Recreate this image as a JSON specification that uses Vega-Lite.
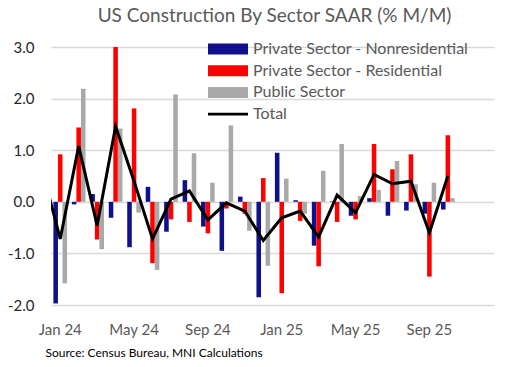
{
  "$schema": "https://vega.github.io/schema/vega-lite/v6.json",
  "autosize": "none",
  "width": 443,
  "height": 258,
  "padding": {"left": 51, "top": 47, "right": 14, "bottom": 62},
  "background": "white",
  "config": {"view": {"stroke": null}, "font": "Lato"},
  "title": {"text": "US Construction By Sector SAAR (% M/M)", "fontSize": 19, "font": "Lato", "fontWeight": "normal", "color": "#595959", "anchor": "middle", "offset": 13, "dx": 2},
  "datasets": {
    "bars": [
      {"month": "Jan 24", "sector": "Private Sector - Nonresidential", "value": -1.97},
      {"month": "Jan 24", "sector": "Private Sector - Residential", "value": 0.92},
      {"month": "Jan 24", "sector": "Public Sector", "value": -1.58},
      {"month": "Feb 24", "sector": "Private Sector - Nonresidential", "value": -0.05},
      {"month": "Feb 24", "sector": "Private Sector - Residential", "value": 1.44},
      {"month": "Feb 24", "sector": "Public Sector", "value": 2.19},
      {"month": "Mar 24", "sector": "Private Sector - Nonresidential", "value": 0.15},
      {"month": "Mar 24", "sector": "Private Sector - Residential", "value": -0.73},
      {"month": "Mar 24", "sector": "Public Sector", "value": -0.92},
      {"month": "Apr 24", "sector": "Private Sector - Nonresidential", "value": -0.31},
      {"month": "Apr 24", "sector": "Private Sector - Residential", "value": 3.0},
      {"month": "Apr 24", "sector": "Public Sector", "value": 1.42},
      {"month": "May 24", "sector": "Private Sector - Nonresidential", "value": -0.88},
      {"month": "May 24", "sector": "Private Sector - Residential", "value": 1.81},
      {"month": "May 24", "sector": "Public Sector", "value": -0.21},
      {"month": "Jun 24", "sector": "Private Sector - Nonresidential", "value": 0.29},
      {"month": "Jun 24", "sector": "Private Sector - Residential", "value": -1.19},
      {"month": "Jun 24", "sector": "Public Sector", "value": -1.32},
      {"month": "Jul 24", "sector": "Private Sector - Nonresidential", "value": -0.58},
      {"month": "Jul 24", "sector": "Private Sector - Residential", "value": -0.34},
      {"month": "Jul 24", "sector": "Public Sector", "value": 2.08},
      {"month": "Aug 24", "sector": "Private Sector - Nonresidential", "value": 0.42},
      {"month": "Aug 24", "sector": "Private Sector - Residential", "value": -0.39},
      {"month": "Aug 24", "sector": "Public Sector", "value": 0.94},
      {"month": "Sep 24", "sector": "Private Sector - Nonresidential", "value": -0.48},
      {"month": "Sep 24", "sector": "Private Sector - Residential", "value": -0.61},
      {"month": "Sep 24", "sector": "Public Sector", "value": 0.37},
      {"month": "Oct 24", "sector": "Private Sector - Nonresidential", "value": -0.95},
      {"month": "Oct 24", "sector": "Private Sector - Residential", "value": -0.13},
      {"month": "Oct 24", "sector": "Public Sector", "value": 1.48},
      {"month": "Nov 24", "sector": "Private Sector - Nonresidential", "value": 0.10},
      {"month": "Nov 24", "sector": "Private Sector - Residential", "value": -0.23},
      {"month": "Nov 24", "sector": "Public Sector", "value": -0.56},
      {"month": "Dec 24", "sector": "Private Sector - Nonresidential", "value": -1.85},
      {"month": "Dec 24", "sector": "Private Sector - Residential", "value": 0.46},
      {"month": "Dec 24", "sector": "Public Sector", "value": -1.24},
      {"month": "Jan 25", "sector": "Private Sector - Nonresidential", "value": 0.95},
      {"month": "Jan 25", "sector": "Private Sector - Residential", "value": -1.77},
      {"month": "Jan 25", "sector": "Public Sector", "value": 0.45},
      {"month": "Feb 25", "sector": "Private Sector - Nonresidential", "value": 0.03},
      {"month": "Feb 25", "sector": "Private Sector - Residential", "value": -0.37},
      {"month": "Feb 25", "sector": "Public Sector", "value": -0.23},
      {"month": "Mar 25", "sector": "Private Sector - Nonresidential", "value": -0.85},
      {"month": "Mar 25", "sector": "Private Sector - Residential", "value": -1.25},
      {"month": "Mar 25", "sector": "Public Sector", "value": 0.60},
      {"month": "Apr 25", "sector": "Private Sector - Nonresidential", "value": 0.01},
      {"month": "Apr 25", "sector": "Private Sector - Residential", "value": -0.39},
      {"month": "Apr 25", "sector": "Public Sector", "value": 1.12},
      {"month": "May 25", "sector": "Private Sector - Nonresidential", "value": -0.27},
      {"month": "May 25", "sector": "Private Sector - Residential", "value": -0.34},
      {"month": "May 25", "sector": "Public Sector", "value": 0.11},
      {"month": "Jun 25", "sector": "Private Sector - Nonresidential", "value": 0.07},
      {"month": "Jun 25", "sector": "Private Sector - Residential", "value": 1.12},
      {"month": "Jun 25", "sector": "Public Sector", "value": 0.23},
      {"month": "Jul 25", "sector": "Private Sector - Nonresidential", "value": -0.27},
      {"month": "Jul 25", "sector": "Private Sector - Residential", "value": 0.63},
      {"month": "Jul 25", "sector": "Public Sector", "value": 0.79},
      {"month": "Aug 25", "sector": "Private Sector - Nonresidential", "value": -0.17},
      {"month": "Aug 25", "sector": "Private Sector - Residential", "value": 0.92},
      {"month": "Aug 25", "sector": "Public Sector", "value": 0.34},
      {"month": "Sep 25", "sector": "Private Sector - Nonresidential", "value": -0.23},
      {"month": "Sep 25", "sector": "Private Sector - Residential", "value": -1.45},
      {"month": "Sep 25", "sector": "Public Sector", "value": 0.37},
      {"month": "Oct 25", "sector": "Private Sector - Nonresidential", "value": -0.15},
      {"month": "Oct 25", "sector": "Private Sector - Residential", "value": 1.29},
      {"month": "Oct 25", "sector": "Public Sector", "value": 0.07}
    ],
    "total": [
      {"idx": -1, "month": "Dec 23", "total": 0.65},
      {"idx": 0, "month": "Jan 24", "total": -0.72},
      {"idx": 1, "month": "Feb 24", "total": 1.08},
      {"idx": 2, "month": "Mar 24", "total": -0.46},
      {"idx": 3, "month": "Apr 24", "total": 1.46},
      {"idx": 4, "month": "May 24", "total": 0.40},
      {"idx": 5, "month": "Jun 24", "total": -0.72},
      {"idx": 6, "month": "Jul 24", "total": 0.05},
      {"idx": 7, "month": "Aug 24", "total": 0.21},
      {"idx": 8, "month": "Sep 24", "total": -0.35},
      {"idx": 9, "month": "Oct 24", "total": -0.02},
      {"idx": 10, "month": "Nov 24", "total": -0.18},
      {"idx": 11, "month": "Dec 24", "total": -0.75},
      {"idx": 12, "month": "Jan 25", "total": -0.31},
      {"idx": 13, "month": "Feb 25", "total": -0.18},
      {"idx": 14, "month": "Mar 25", "total": -0.68},
      {"idx": 15, "month": "Apr 25", "total": 0.13},
      {"idx": 16, "month": "May 25", "total": -0.21},
      {"idx": 17, "month": "Jun 25", "total": 0.53},
      {"idx": 18, "month": "Jul 25", "total": 0.35},
      {"idx": 19, "month": "Aug 25", "total": 0.40},
      {"idx": 20, "month": "Sep 25", "total": -0.60},
      {"idx": 21, "month": "Oct 25", "total": 0.50}
    ]
  },
  "layer": [
    {
      "data": {"name": "bars"},
      "mark": {"type": "bar"},
      "encoding": {
        "x": {
          "field": "month", "type": "ordinal", "sort": null,
          "scale": {"domain": ["Jan 24","Feb 24","Mar 24","Apr 24","May 24","Jun 24","Jul 24","Aug 24","Sep 24","Oct 24","Nov 24","Dec 24","Jan 25","Feb 25","Mar 25","Apr 25","May 25","Jun 25","Jul 25","Aug 25","Sep 25","Oct 25","Nov 25","Dec 25"], "paddingInner": 0.26, "paddingOuter": 0.13},
          "axis": {
            "values": ["Jan 24","May 24","Sep 24","Jan 25","May 25","Sep 25"],
            "labelAngle": 0, "labelFontSize": 15, "labelColor": "#595959", "labelPadding": 17,
            "ticks": false, "domain": false, "grid": false,
            "title": "Source: Census Bureau, MNI Calculations",
            "titleFontSize": 12, "titleFontWeight": "normal", "titleColor": "#000000",
            "titleAlign": "left", "titleAnchor": "start", "titleBaseline": "middle", "titleX": -6, "titleY": 47
          }
        },
        "xOffset": {
          "field": "sector", "type": "nominal",
          "scale": {"domain": ["Private Sector - Nonresidential", "Private Sector - Residential", "Public Sector"], "paddingInner": 0, "paddingOuter": 0}
        },
        "y": {
          "field": "value", "type": "quantitative",
          "scale": {"domain": [-2, 3], "nice": false, "zero": false},
          "axis": {
            "values": [-2, -1, 0, 1, 2, 3],
            "labelExpr": "datum.value < 0 ? '-' + format(-datum.value, '.1f') : format(datum.value, '.1f')",
            "labelFontSize": 15, "labelColor": "#262626", "labelPadding": 17,
            "ticks": false, "domain": false, "grid": true, "gridColor": "#d9d9d9", "gridWidth": 1.5,
            "title": null
          }
        },
        "color": {
          "field": "sector", "type": "nominal",
          "scale": {"domain": ["Private Sector - Nonresidential", "Private Sector - Residential", "Public Sector", "Total"], "range": ["#10108c", "#ff0000", "#a9a9a9", "#000000"]},
          "legend": {
            "orient": "none", "legendX": 167, "legendY": -8, "title": null,
            "symbolSize": 400, "labelFontSize": 16, "labelColor": "#595959", "labelOffset": 15, "labelLimit": 400,
            "rowPadding": 3.7, "padding": 0,
            "encode": {
              "symbols": {
                "update": {
                  "shape": {"signal": "datum.value === 'Total' ? 'M-2,-0.14H2V0.14H-2Z' : 'M-2,-0.55H2V0.55H-2Z'"},
                  "fill": {"signal": "scale('color', datum.value)"},
                  "stroke": {"value": "transparent"},
                  "strokeWidth": {"value": 0},
                  "opacity": {"value": 1}
                }
              }
            }
          }
        }
      }
    },
    {
      "data": {"name": "total"},
      "mark": {"type": "line", "strokeWidth": 3, "clip": true, "strokeJoin": "miter"},
      "encoding": {
        "x": {"field": "idx", "type": "quantitative", "scale": {"domain": [-0.5, 23.5], "nice": false, "zero": false}, "axis": null},
        "y": {"field": "total", "type": "quantitative"},
        "color": {"datum": "Total"}
      }
    }
  ],
  "resolve": {"scale": {"x": "independent"}}
}
